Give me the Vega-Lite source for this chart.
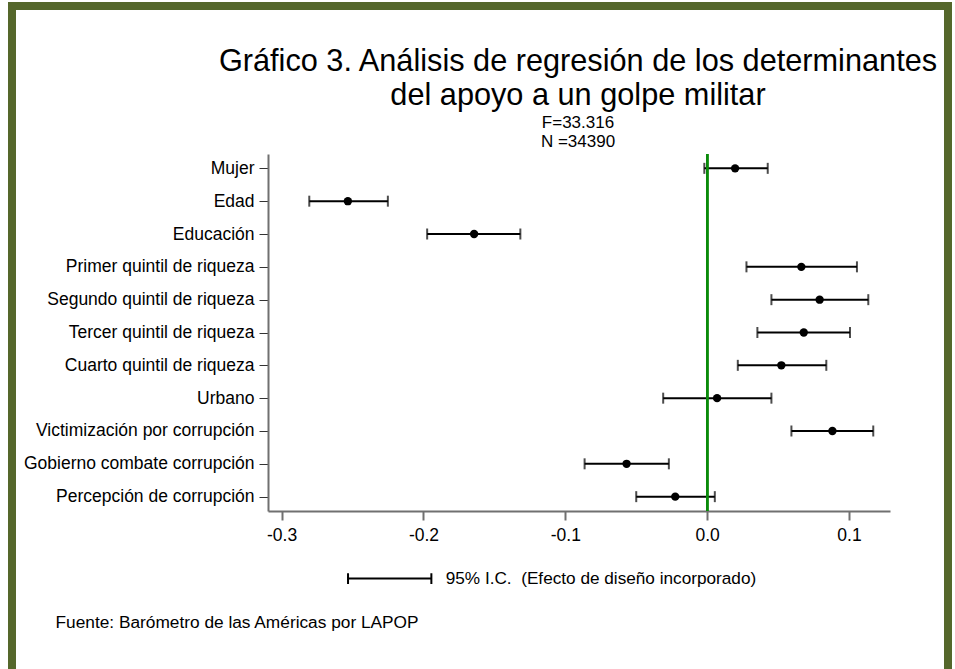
{
  "$schema": "https://vega.github.io/schema/vega-lite/v6.json",
  "width": 936,
  "height": 667,
  "autosize": "none",
  "padding": {"left": 12, "top": 6, "right": 7, "bottom": -4},
  "background": "white",
  "config": {
    "view": {"fill": "white", "stroke": "#55672b", "strokeWidth": 8},
    "font": "Liberation Sans",
    "axis": {
      "labelFont": "Liberation Sans",
      "labelFontSize": 17.5,
      "labelColor": "black",
      "domainColor": "#707070",
      "domainWidth": 2,
      "tickColor": "#707070",
      "tickWidth": 2,
      "grid": false
    }
  },
  "title": {
    "text": ["Gráfico 3. Análisis de regresión de los determinantes", "del apoyo a un golpe militar"],
    "subtitle": ["F=33.316", "N =34390"],
    "anchor": "middle",
    "dx": 98,
    "offset": -145,
    "font": "Liberation Sans",
    "fontSize": 30.7,
    "fontWeight": "normal",
    "color": "black",
    "lineHeight": 34,
    "subtitleFont": "Liberation Sans",
    "subtitleFontSize": 17,
    "subtitleColor": "black",
    "subtitleLineHeight": 19,
    "subtitlePadding": 3
  },
  "data": {
    "values": [
      {"var": "Mujer", "coef": 0.0197, "lo": -0.002, "hi": 0.0427, "ic": "95% I.C.\u00a0 (Efecto de diseño incorporado)"},
      {"var": "Edad", "coef": -0.2533, "lo": -0.2805, "hi": -0.2251, "ic": "95% I.C.\u00a0 (Efecto de diseño incorporado)"},
      {"var": "Educación", "coef": -0.1643, "lo": -0.1974, "hi": -0.1317, "ic": "95% I.C.\u00a0 (Efecto de diseño incorporado)"},
      {"var": "Primer quintil de riqueza", "coef": 0.0664, "lo": 0.0277, "hi": 0.1056, "ic": "95% I.C.\u00a0 (Efecto de diseño incorporado)"},
      {"var": "Segundo quintil de riqueza", "coef": 0.0793, "lo": 0.0453, "hi": 0.1136, "ic": "95% I.C.\u00a0 (Efecto de diseño incorporado)"},
      {"var": "Tercer quintil de riqueza", "coef": 0.0681, "lo": 0.0354, "hi": 0.1007, "ic": "95% I.C.\u00a0 (Efecto de diseño incorporado)"},
      {"var": "Cuarto quintil de riqueza", "coef": 0.0523, "lo": 0.0216, "hi": 0.084, "ic": "95% I.C.\u00a0 (Efecto de diseño incorporado)"},
      {"var": "Urbano", "coef": 0.007, "lo": -0.031, "hi": 0.0453, "ic": "95% I.C.\u00a0 (Efecto de diseño incorporado)"},
      {"var": "Victimización por corrupción", "coef": 0.0883, "lo": 0.0594, "hi": 0.1171, "ic": "95% I.C.\u00a0 (Efecto de diseño incorporado)"},
      {"var": "Gobierno combate corrupción\u00a0", "coef": -0.0568, "lo": -0.0864, "hi": -0.027, "ic": "95% I.C.\u00a0 (Efecto de diseño incorporado)"},
      {"var": "Percepción de corrupción", "coef": -0.0225, "lo": -0.05, "hi": 0.0054, "ic": "95% I.C.\u00a0 (Efecto de diseño incorporado)"}
    ]
  },
  "resolve": {"scale": {"y": "independent"}, "axis": {"y": "independent"}},
  "layer": [
    {
      "layer": [
        {
          "mark": {"type": "rule", "strokeWidth": 2},
          "encoding": {
            "x": {
              "field": "lo", "type": "quantitative",
              "scale": {"domain": [-0.3096, 0.1289], "range": [256, 878], "nice": false, "zero": false},
              "axis": {
                "values": [-0.3, -0.2, -0.1, 0, 0.1],
                "labelExpr": "replace(format(datum.value, '.1f'), '\u2212', '-')",
                "offset": -162,
                "tickSize": 9,
                "labelPadding": 6,
                "title": "Fuente: Barómetro de las Américas por LAPOP",
                "titleX": 43,
                "titleY": 116.7,
                "titleAlign": "left",
                "titleAnchor": "start",
                "titleBaseline": "alphabetic",
                "titleFont": "Liberation Sans",
                "titleFontSize": 17.3,
                "titleFontWeight": "normal",
                "titleColor": "black"
              }
            },
            "x2": {"field": "hi"},
            "y": {
              "field": "var", "type": "nominal", "sort": null,
              "scale": {"type": "point", "range": [148, 505], "padding": 0.437},
              "axis": {
                "title": null,
                "offset": -256,
                "tickSize": 9,
                "tickWidth": 1,
                "tickColor": "#333333",
                "labelPadding": 5,
                "labelLimit": 400
              }
            },
            "color": {
              "field": "ic", "type": "nominal",
              "scale": {"range": ["black"]},
              "legend": {
                "orient": "none",
                "legendX": 334.7,
                "legendY": 529.6,
                "title": null,
                "padding": 0,
                "symbolType": "M-1,-0.13L-1,0.13M-1,0L1,0M1,-0.13L1,0.13",
                "symbolSize": 6944,
                "symbolStrokeWidth": 2,
                "symbolStrokeColor": "black",
                "symbolFillColor": "transparent",
                "labelFont": "Liberation Sans",
                "labelFontSize": 17.2,
                "labelColor": "black",
                "labelOffset": 13,
                "labelLimit": 500
              }
            }
          }
        },
        {
          "mark": {"type": "tick", "thickness": 2, "size": 11, "color": "black"},
          "encoding": {
            "x": {"field": "lo", "type": "quantitative"},
            "y": {"field": "var", "type": "nominal", "sort": null}
          }
        },
        {
          "mark": {"type": "tick", "thickness": 2, "size": 11, "color": "black"},
          "encoding": {
            "x": {"field": "hi", "type": "quantitative"},
            "y": {"field": "var", "type": "nominal", "sort": null}
          }
        },
        {
          "mark": {"type": "point", "filled": true, "shape": "circle", "size": 70, "color": "black", "opacity": 1},
          "encoding": {
            "x": {"field": "coef", "type": "quantitative"},
            "y": {"field": "var", "type": "nominal", "sort": null}
          }
        }
      ]
    },
    {
      "mark": {"type": "rule", "color": "#0a8a0a", "strokeWidth": 2},
      "encoding": {
        "x": {"datum": 0, "type": "quantitative"},
        "y": {"datum": 0, "type": "quantitative", "scale": {"domain": [0, 1], "range": [148, 505]}, "axis": null},
        "y2": {"datum": 1}
      }
    }
  ]
}
